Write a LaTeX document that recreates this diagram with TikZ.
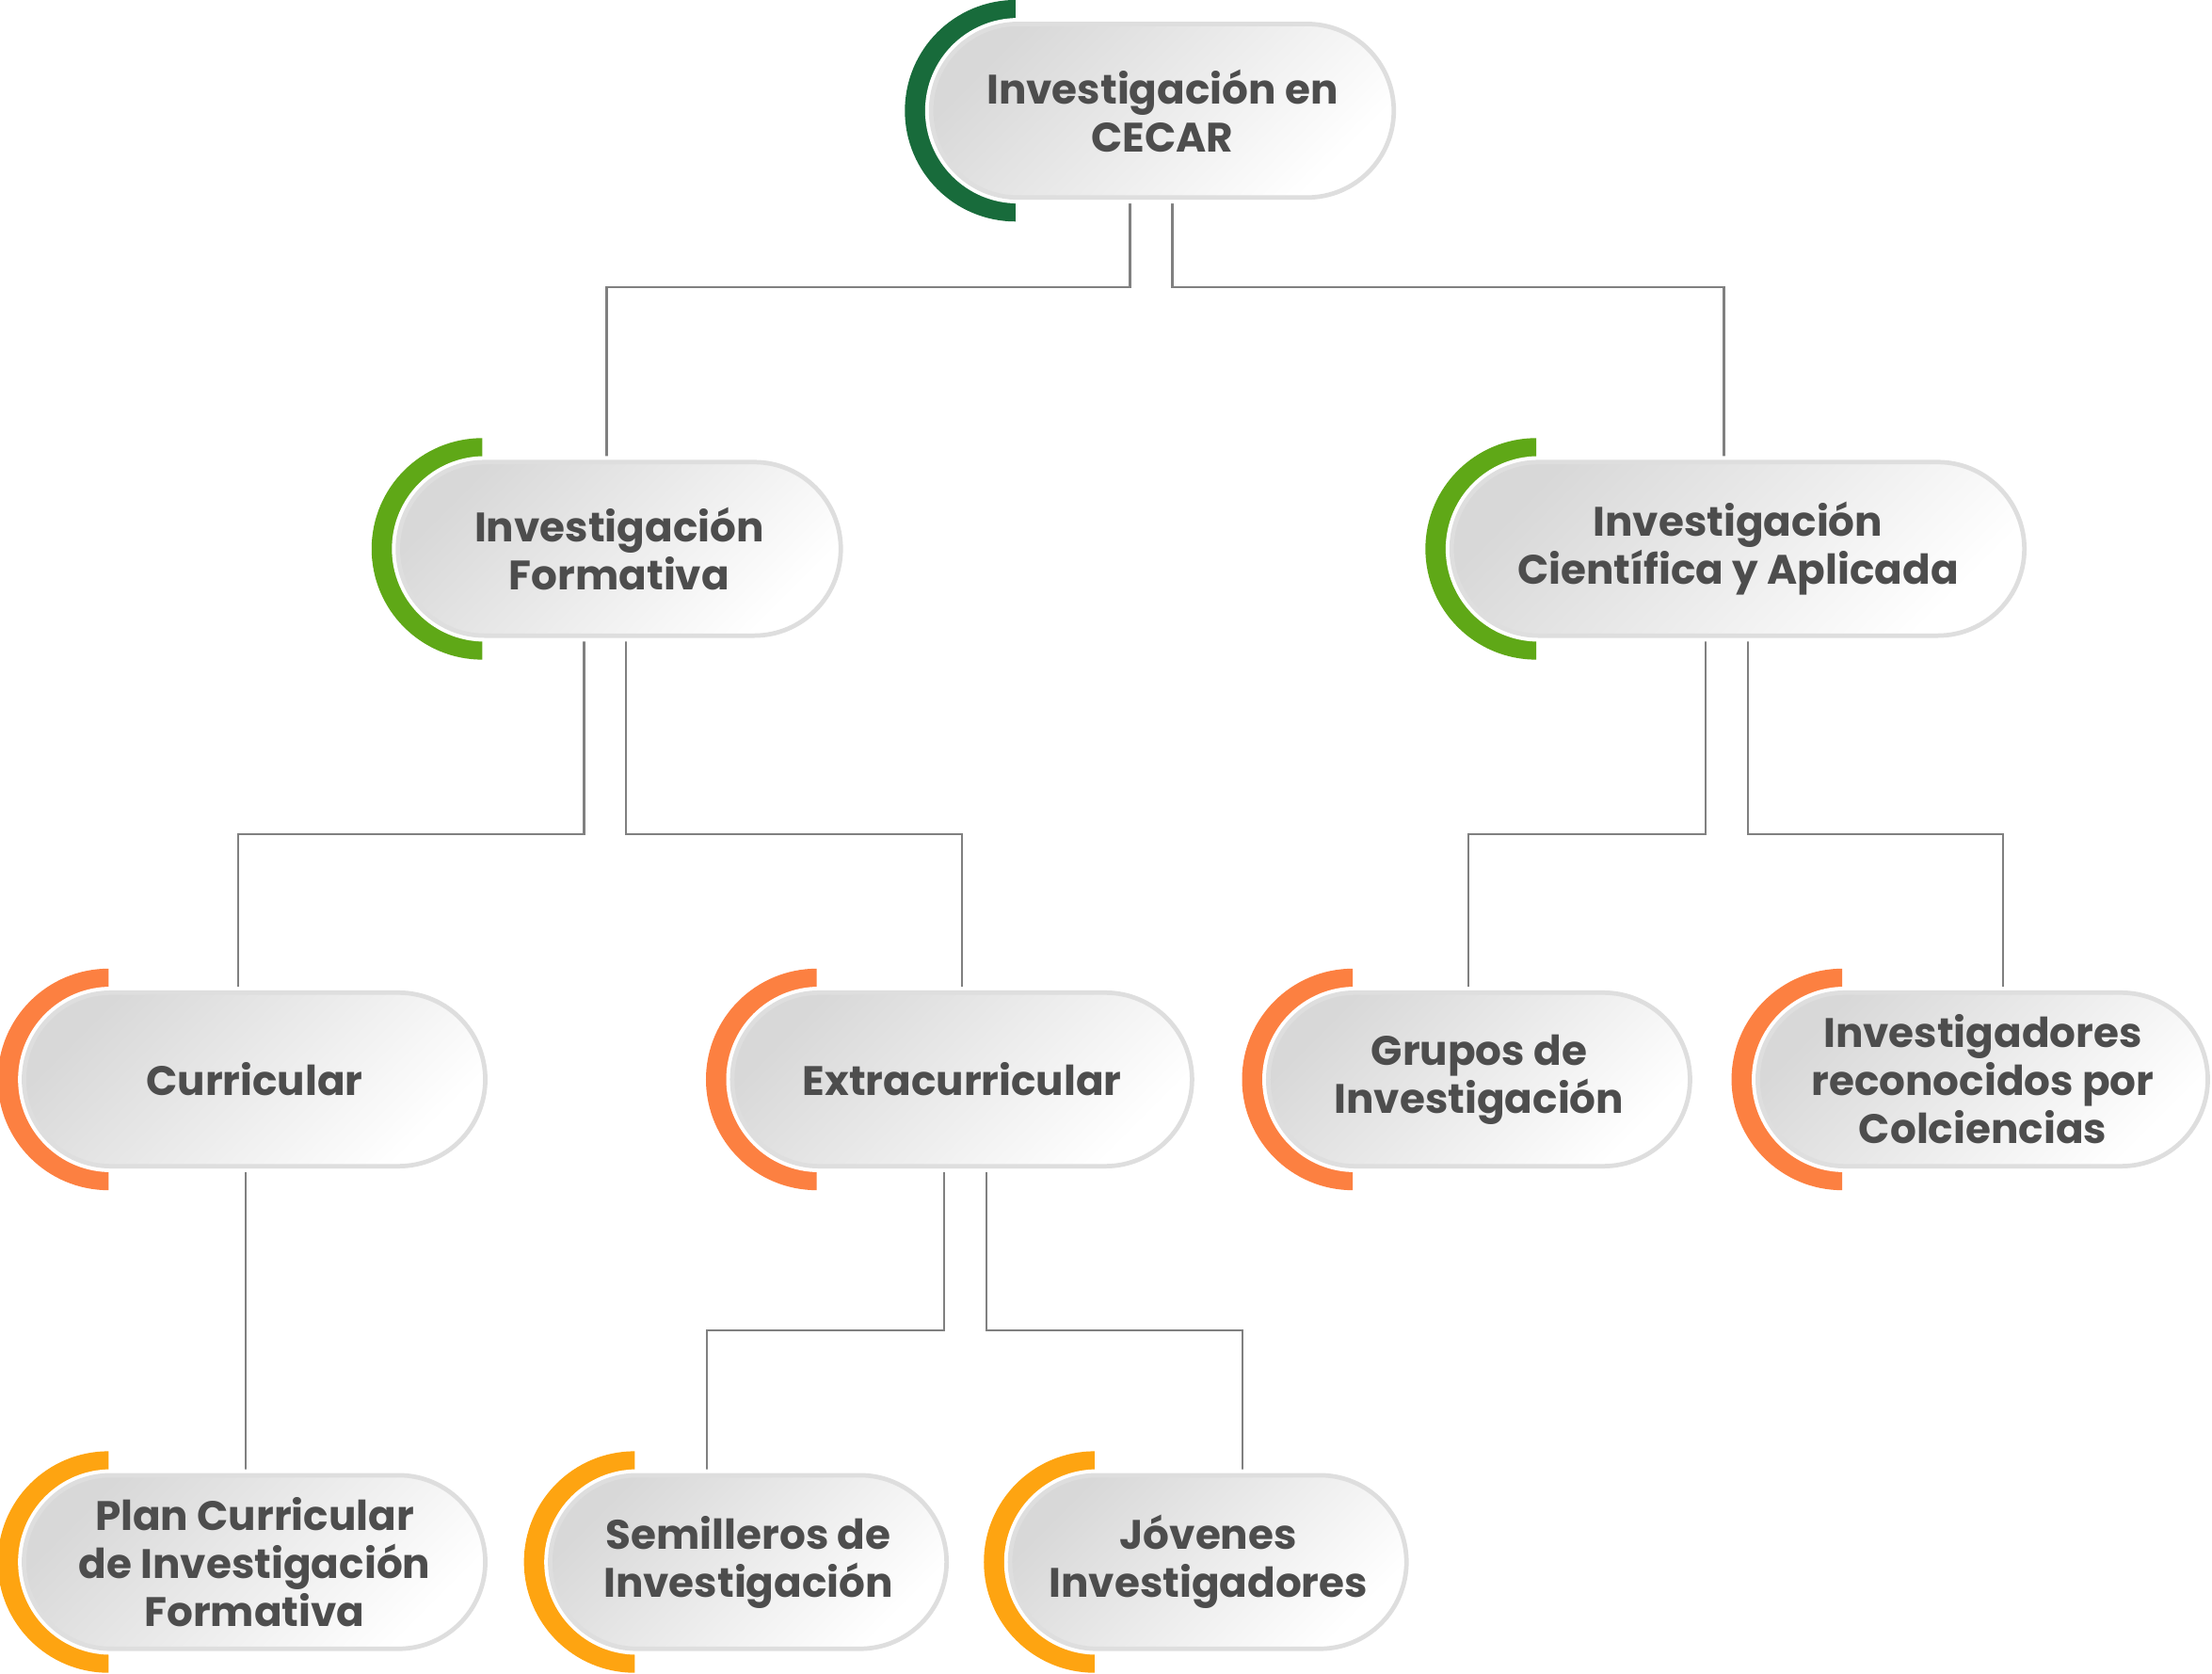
\documentclass[tikz,border=0pt]{standalone}
\usepackage{fontspec}
\setmainfont{Poppins}
\usetikzlibrary{shapes.misc,positioning,calc}
\pgfdeclarelayer{background}
\pgfsetlayers{background,main}

\definecolor{cdark}{HTML}{186B3B}
\definecolor{cgreen}{HTML}{5FA817}
\definecolor{corange}{HTML}{FC8041}
\definecolor{cyellow}{HTML}{FEA411}
\definecolor{ctext}{HTML}{4D4D4D}
\definecolor{cline}{HTML}{808080}
\definecolor{cedge}{HTML}{DEDEDE}
\definecolor{cshade}{HTML}{D8D8D8}

\tikzset{
  pill/.style={rounded rectangle, minimum height=12.3mm, inner sep=0pt,
    top color=cshade, bottom color=white, shading angle=45,
    draw=cedge, line width=0.9pt, preaction={draw=white, line width=2.4pt},
    font=\bfseries\fontsize{8.3}{9.7}\selectfont, text=ctext, align=center},
  link/.style={draw=cline, line width=0.4pt}
}

\begin{document}
\begin{tikzpicture}[x=0.1mm, y=0.1mm]
\useasboundingbox (0,0) rectangle (1568,1186);

% level 0
\node[pill, minimum width=32.8mm] (root) at (824,1107.5) {Investigación en\\CECAR};

% level 1
\node[pill, minimum width=31.4mm] (form) at (439,797) {Investigación\\Formativa};
\node[pill, minimum width=40.6mm] (cien) at (1232,797) {Investigación\\Científica y Aplicada};

% level 2
\node[pill, minimum width=32.7mm] (curr) at (180.5,421) {Curricular};
\node[pill, minimum width=32.6mm] (extra) at (682,421) {Extracurricular};
\node[pill, minimum width=29.9mm] (grupos) at (1048.5,421) {Grupos de\\Investigación};
\node[pill, minimum width=31.9mm] (recon) at (1405.5,421) {Investigadores\\reconocidos por\\Colciencias};

% level 3
\node[pill, minimum width=32.7mm] (plan) at (180.5,79) {Plan Curricular\\de Investigación\\Formativa};
\node[pill, minimum width=28.1mm] (semi) at (530.5,79) {Semilleros de\\Investigación};
\node[pill, minimum width=28.1mm] (jov) at (856.5,79) {Jóvenes\\Investigadores};

\begin{pgfonlayer}{background}
% coloured half disks
\foreach \n/\c in {root/cdark, form/cgreen, cien/cgreen, curr/corange, extra/corange,
    grupos/corange, recon/corange, plan/cyellow, semi/cyellow, jov/cyellow}
  \fill[\c] ([xshift=6.15mm]\n.west) ++(0,7.85mm) arc[start angle=90, end angle=270, radius=7.85mm] -- cycle;

% connectors
\draw[link] ([xshift=-2.3mm]root.south) -- ++(0,-6.2mm) -| ([xshift=-0.9mm]form.north);
\draw[link] ([xshift=0.7mm]root.south) -- ++(0,-6.2mm) -| ([xshift=-1mm]cien.north);
\draw[link] ([xshift=-2.5mm]form.south) -- ++(0,-13.9mm) -| ([xshift=-1.15mm]curr.north);
\draw[link] ([xshift=0.5mm]form.south) -- ++(0,-13.9mm) -| (extra.north);
\draw[link] ([xshift=-2.3mm]cien.south) -- ++(0,-13.9mm) -| ([xshift=-0.75mm]grupos.north);
\draw[link] ([xshift=0.7mm]cien.south) -- ++(0,-13.9mm) -| ([xshift=1.45mm]recon.north);
\draw[link] ([xshift=-0.65mm]curr.south) -- ([xshift=-0.65mm]plan.north);
\draw[link] ([xshift=-1.3mm]extra.south) -- ++(0,-11.5mm) -| ([xshift=-2.95mm]semi.north);
\draw[link] ([xshift=1.7mm]extra.south) -- ++(0,-11.5mm) -| ([xshift=2.45mm]jov.north);
\end{pgfonlayer}
\end{tikzpicture}
\end{document}
